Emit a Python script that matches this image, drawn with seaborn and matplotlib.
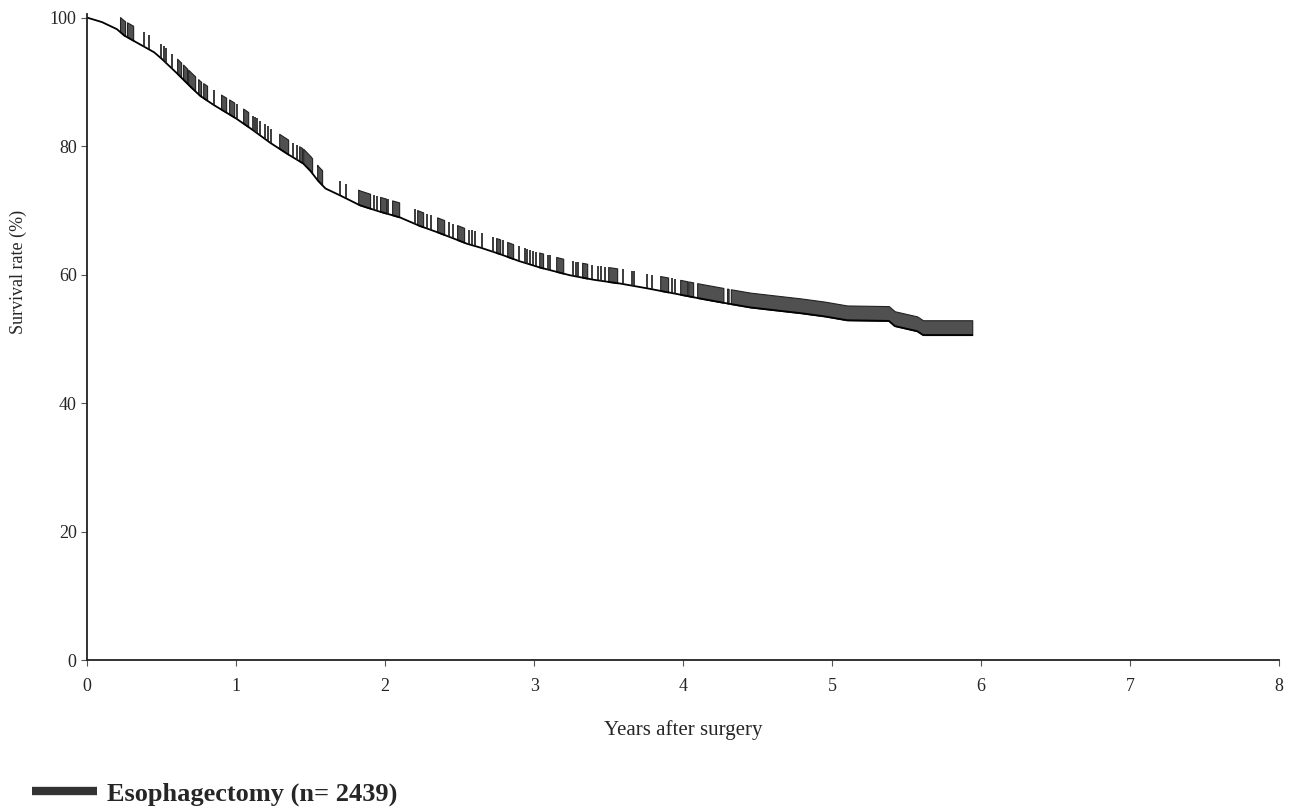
import numpy as np
import matplotlib
matplotlib.use("Agg")
import matplotlib.pyplot as plt
from matplotlib.lines import Line2D
import seaborn as sns

# Kaplan-Meier estimate (years, survival %)
km_years = [0.0, 0.1, 0.2, 0.25, 0.35, 0.45, 0.5, 0.6, 0.7, 0.76, 0.85, 1.0,
            1.1, 1.23, 1.35, 1.45, 1.5, 1.55, 1.6, 1.7, 1.83, 1.95, 2.1, 2.23,
            2.35, 2.44, 2.55, 2.64, 2.77, 2.9, 3.04, 3.24, 3.4, 3.58, 3.75,
            3.91, 4.11, 4.3, 4.45, 4.6, 4.79, 4.95, 5.1, 5.38, 5.42, 5.57,
            5.61, 5.94]
km_surv = [100.0, 99.3, 98.2, 97.2, 95.9, 94.6, 93.6, 91.4, 89.1, 87.8, 86.4,
           84.3, 82.7, 80.5, 78.7, 77.3, 76.1, 74.6, 73.4, 72.3, 70.8, 69.9,
           68.9, 67.6, 66.6, 65.8, 64.8, 64.2, 63.2, 62.1, 61.1, 59.9, 59.2,
           58.6, 57.9, 57.2, 56.3, 55.5, 54.9, 54.5, 54.0, 53.5, 52.9, 52.8,
           52.0, 51.2, 50.6, 50.6]

# single censoring marks (years)
censor_ticks = [0.383, 0.416, 0.497, 0.517, 0.530, 0.570, 0.852, 1.007, 1.114,
                1.128, 1.141, 1.161, 1.195, 1.215, 1.235, 1.383, 1.409, 1.698,
                1.738, 1.926, 1.946, 2.020, 2.201, 2.282, 2.309, 2.430, 2.456,
                2.564, 2.584, 2.604, 2.651, 2.725, 2.792, 2.899, 2.940, 2.953,
                2.973, 2.993, 3.013, 3.094, 3.107, 3.262, 3.282, 3.295, 3.389,
                3.430, 3.450, 3.477, 3.597, 3.658, 3.671, 3.758, 3.792, 3.926,
                3.946]

# runs of censoring marks so close they merge into blocks (start, end)
censor_blocks = [(0.221, 0.255), (0.268, 0.309), (0.604, 0.631), (0.644, 0.671),
                 (0.678, 0.725), (0.745, 0.765), (0.779, 0.805), (0.899, 0.933),
                 (0.953, 0.987), (1.047, 1.081), (1.289, 1.349), (1.423, 1.443),
                 (1.450, 1.510), (1.544, 1.577), (1.819, 1.899), (1.966, 2.007),
                 (2.047, 2.094), (2.215, 2.255), (2.349, 2.396), (2.483, 2.530),
                 (2.745, 2.772), (2.819, 2.859), (3.034, 3.060), (3.148, 3.195),
                 (3.322, 3.356), (3.497, 3.557), (3.846, 3.899), (3.980, 4.027),
                 (4.034, 4.067), (4.094, 4.270), (4.295, 4.305), (4.320, 5.940)]

mark_height = 2.3
legend_label = "Esophagectomy (n= 2439)"

sns.set_style("ticks")
plt.rcParams["font.family"] = ["Liberation Serif", "DejaVu Serif"]

times = np.array(km_years)
surv = np.array(km_surv)


def surv_at(x):
    return np.interp(x, times, surv)


fig = plt.figure(figsize=(13, 8.09), dpi=100)
ax = fig.add_axes([0.067, 0.184, 0.917, 0.799])

sns.lineplot(x=times, y=surv, color="black", linewidth=1.3, ax=ax)

ct = np.array(censor_ticks)
ax.vlines(ct, surv_at(ct), surv_at(ct) + mark_height, color="#1a1a1a",
          linewidth=1.2)

for start, end in censor_blocks:
    inner = [t for t in km_years if start < t < end]
    xs = np.array([start] + inner + [end])
    ys = surv_at(xs)
    ax.fill_between(xs, ys, ys + mark_height, color="#505050",
                    edgecolor="#222222", linewidth=0.8)

ax.set_xlim(0, 8)
ax.set_ylim(0, 100.6)
ax.set_xticks(range(0, 9))
ax.set_yticks([0, 20, 40, 60, 80, 100])
ax.tick_params(labelsize=13, length=4, width=0.8, color="#555555")
ax.tick_params(axis="x", pad=9)
ax.set_xlabel("Years after surgery", fontsize=15, labelpad=18)
ax.set_ylabel("Survival rate (%)", fontsize=13)
ax.yaxis.set_label_coords(-0.050, 0.60)
sns.despine(ax=ax)
for side in ("left", "bottom"):
    ax.spines[side].set_linewidth(1.3)
    ax.spines[side].set_color("#222222")

handle = Line2D([], [], color="#333333", linewidth=6, solid_capstyle="butt")
fig.legend([handle], [legend_label], loc="center left",
           bbox_to_anchor=(0.0065, 0.019), frameon=False, handlelength=2.46,
           handletextpad=0.38, prop={"family": "Liberation Serif",
                                      "weight": "bold", "size": 19})

fig.savefig("out.png", dpi=100, facecolor="white")
